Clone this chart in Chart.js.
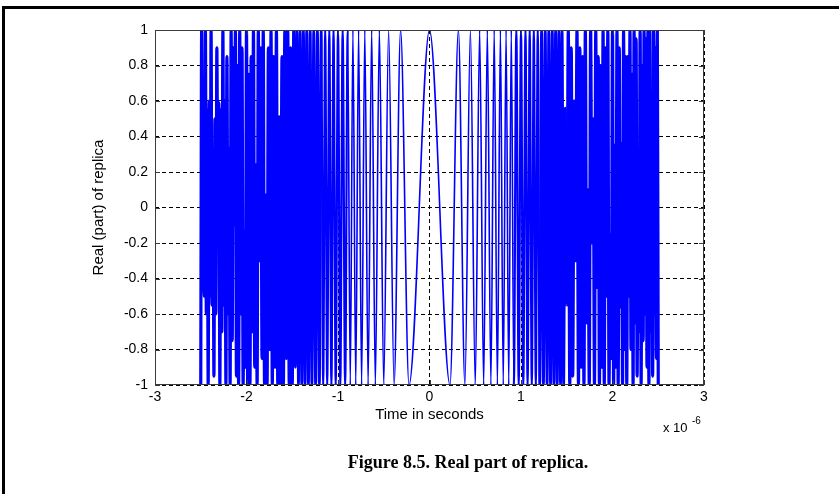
<!DOCTYPE html>
<html>
<head>
<meta charset="utf-8">
<script src="https://cdn.jsdelivr.net/npm/chart.js@4.4.1/dist/chart.umd.min.js"></script>
<style>
  html, body { margin: 0; padding: 0; background: #fff; }
  #wrap { position: relative; width: 839px; height: 494px; }
</style>
</head>
<body>
<div id="wrap"><canvas id="replica_plot" width="839" height="494"></canvas></div>
<script>
// peaks and troughs of the replica's real part
// time is in units of 1e-6 s, for the t >= 0 half (left half mirrors it)
const peakTimes = [
  0, 0.224, 0.316, 0.387, 0.447, 0.5, 0.548, 0.592, 0.632, 0.671,
  0.707, 0.742, 0.775, 0.806, 0.837, 0.866, 0.894, 0.922, 0.949, 0.975,
  1.0, 1.025, 1.049, 1.072, 1.095, 1.118, 1.14, 1.162, 1.183, 1.204,
  1.225, 1.245, 1.265, 1.285, 1.304, 1.323, 1.342, 1.36, 1.378, 1.396,
  1.414, 1.432, 1.449, 1.466, 1.483, 1.5, 1.517, 1.533, 1.549, 1.565,
  1.581, 1.597, 1.612, 1.628, 1.643, 1.658, 1.673, 1.688, 1.703, 1.718,
  1.732, 1.746, 1.761, 1.775, 1.789, 1.803, 1.817, 1.83, 1.844, 1.857,
  1.871, 1.884, 1.897, 1.91, 1.924, 1.936, 1.949, 1.962, 1.975, 1.987,
  2.0, 2.012, 2.025, 2.037, 2.049, 2.062, 2.074, 2.086, 2.098, 2.11,
  2.121, 2.133, 2.145, 2.156, 2.168, 2.179, 2.191, 2.202, 2.214, 2.225,
  2.236, 2.247, 2.258, 2.269, 2.28, 2.291, 2.302, 2.313, 2.324, 2.335,
  2.345, 2.356, 2.366, 2.377, 2.387, 2.398, 2.408, 2.419, 2.429, 2.439,
  2.449, 2.46, 2.47, 2.48, 2.49, 2.5
];
// values at those times, right half (t > 0)
const rightValues = [
  1, -1, 1, -1, 1, -1, 1, -1, 1, -1,
  1, -1, 1, -1, 1, -1, 1, -1, 1, -1,
  1, -1, 1, -1, 1, -1, 1, -1, 1, -1,
  1, -1, 1, -1, 1, -1, 1, -1, 1, -1,
  1, -1, 1, -1, 0.56, -0.55, 1, -1, 0.9, -0.95,
  0.6, -0.3, 1, -1, 0.9, -0.9, 0.85, -1, 1, -0.65,
  0.1, -1, 1, -0.2, 0.5, -1, 1, -0.45, 0.85, -1,
  0.8, -0.9, 1, -1, 0.9, -0.5, 1, -1, -0.15, -0.85,
  1, -1, 0.35, -0.9, 1, -1, 0.9, -0.56, 0.36, -1,
  1, -0.8, 0.85, -1, 0.85, -0.5, 1, -0.8, 0.75, -1,
  1, -0.65, 0.95, -0.95, 0.05, -0.7, 1, -1, 0.8, -0.75,
  1, -0.6, 0.95, -0.9, 1, -1, 1, -0.7, 0.65, -0.95,
  1, -0.6, 0.9, -0.85, 1, -1
];
// values at the mirrored times, left half (t < 0); first entry is t = 0
const leftValues = [
  1, -1, 1, -1, 1, -1, 1, -1, 1, -1,
  1, -1, 1, -1, 1, -1, 1, -1, 1, -1,
  1, -1, 1, -1, 1, -1, 1, -1, 1, -1,
  1, -1, 1, -1, 1, -1, 1, -1, 1, -1,
  1, -1, 1, -0.9, 1, -1, 0.9, -1, 1, -0.85,
  1, -1, 0.85, -1, 0.51, -1, 1, -0.9, 0.85, -1,
  1, -0.8, 0.9, -1, 0.07, -1, 1, -0.85, 0.9, -0.3,
  1, -1, 0.24, -0.9, 1, -0.7, 0.85, -1, 0.75, -1,
  1, -0.9, -0.14, -1, 0.9, -0.6, 1, -1, 0.8, -0.95,
  1, -0.1, 0.9, -0.75, 1, -1, 0.33, -0.6, 0.85, -1,
  0.6, -0.55, 1, -0.7, 0.55, -1, 0.59, -0.05, 0.9, -0.6,
  0.5, -0.95, 0.27, -0.55, 1, -0.5, 0.6, -1, 0.55, -0.6,
  1, -0.5, 0.51, -0.47, 1, -1
];
const xTicks = [-3, -2, -1, 0, 1, 2, 3];
const yTicks = [-1, -0.8, -0.6, -0.4, -0.2, 0, 0.2, 0.4, 0.6, 0.8, 1];

const sansFont = '"Liberation Sans", Arial, Helvetica, sans-serif';

// left half runs from t = -2.5 up to the first trough, then t = 0 and the right half
let points = [];
for (let i = peakTimes.length - 1; i >= 1; i--) {
    points.push({x: -peakTimes[i], y: leftValues[i]});
}
for (let i = 0; i < peakTimes.length; i++) {
    points.push({x: peakTimes[i], y: rightValues[i]});
}

// the scanned plot smears the fast part of the sweep, so draw it a bit heavier there
function segmentWidth(ctx) {
    const t = Math.abs(ctx.p0.parsed.x);
    if (t < 0.9) return 1.6;
    if (t < 1.2) return 2.2;
    if (t < 1.5) return 2.8;
    return 3.2;
}

// outer frame, box with inward ticks, exponent and caption
const figureDecor = {
    id: 'figureDecor',
    beforeDraw(chart) {
        const ctx = chart.ctx;
        ctx.save();
        ctx.fillStyle = '#fff';
        ctx.fillRect(0, 0, chart.width, chart.height);
        ctx.restore();
    },
    afterDraw(chart) {
        const {ctx, chartArea: a, scales} = chart;
        ctx.save();
        // box
        ctx.strokeStyle = '#3a3a3a';
        ctx.lineWidth = 1;
        ctx.setLineDash([]);
        ctx.strokeRect(a.left + 0.5, a.top + 0.5, a.right - a.left - 1, a.bottom - a.top - 1);
        // tick marks pointing inwards
        ctx.beginPath();
        xTicks.forEach(v => {
            const px = Math.round(scales.x.getPixelForValue(v)) + 0.5;
            ctx.moveTo(px, a.bottom); ctx.lineTo(px, a.bottom - 5);
            ctx.moveTo(px, a.top); ctx.lineTo(px, a.top + 5);
        });
        yTicks.forEach(v => {
            const py = Math.round(scales.y.getPixelForValue(v)) + 0.5;
            ctx.moveTo(a.left, py); ctx.lineTo(a.left + 5, py);
            ctx.moveTo(a.right, py); ctx.lineTo(a.right - 5, py);
        });
        ctx.stroke();
        // x 10^-6
        ctx.fillStyle = '#000';
        ctx.textBaseline = 'alphabetic';
        ctx.textAlign = 'left';
        ctx.font = '13px ' + sansFont;
        ctx.fillText('x 10', 663, 432);
        ctx.font = '10px ' + sansFont;
        ctx.fillText('-6', 692, 424);
        // caption
        ctx.font = 'bold 18px "Liberation Serif", "Times New Roman", serif';
        ctx.textAlign = 'center';
        ctx.fillText('Figure 8.5. Real part of replica.', 468, 468);
        // page frame (top and left rules)
        ctx.fillRect(2, 6, chart.width - 2, 3);
        ctx.fillRect(2, 6, 3, chart.height - 6);
        ctx.restore();
    }
};

const replicaChart = new Chart(document.getElementById('replica_plot'), {
    type: 'line',
    data: {
        datasets: [{
            label: 'Real (part) of replica',
            data: points,
            borderColor: '#0000ff',
            borderWidth: 1.6,
            segment: {borderWidth: segmentWidth},
            pointRadius: 0,
            fill: false,
            cubicInterpolationMode: 'monotone'
        }]
    },
    options: {
        responsive: false,
        animation: false,
        devicePixelRatio: 1,
        layout: {padding: {left: 0, right: 135, top: 30, bottom: 0}},
        plugins: {legend: {display: false}, tooltip: {enabled: false}},
        scales: {
            x: {
                type: 'linear',
                min: -3,
                max: 3,
                afterBuildTicks: s => { s.ticks = xTicks.map(v => ({value: v})); },
                afterFit: s => { s.height = 109; },
                ticks: {
                    color: '#000',
                    padding: 4,
                    autoSkip: false,
                    maxRotation: 0,
                    font: {family: sansFont, size: 14},
                    callback: v => String(v)
                },
                grid: {color: '#000', lineWidth: 1, drawTicks: false},
                border: {display: false, dash: [4, 3]},
                title: {
                    display: true,
                    text: 'Time in seconds',
                    color: '#000',
                    font: {family: sansFont, size: 15},
                    padding: {top: 0, bottom: 70}
                }
            },
            y: {
                type: 'linear',
                min: -1,
                max: 1,
                afterBuildTicks: s => { s.ticks = yTicks.map(v => ({value: v})); },
                afterFit: s => { s.width = 155; },
                ticks: {
                    color: '#000',
                    padding: 7,
                    autoSkip: false,
                    font: {family: sansFont, size: 14},
                    callback: v => String(v)
                },
                grid: {color: '#000', lineWidth: 1, drawTicks: false},
                border: {display: false, dash: [4, 3]},
                title: {
                    display: true,
                    text: 'Real (part) of replica',
                    color: '#000',
                    font: {family: sansFont, size: 15},
                    padding: {top: 90, bottom: 0}
                }
            }
        }
    },
    plugins: [figureDecor]
});
</script>
</body>
</html>
